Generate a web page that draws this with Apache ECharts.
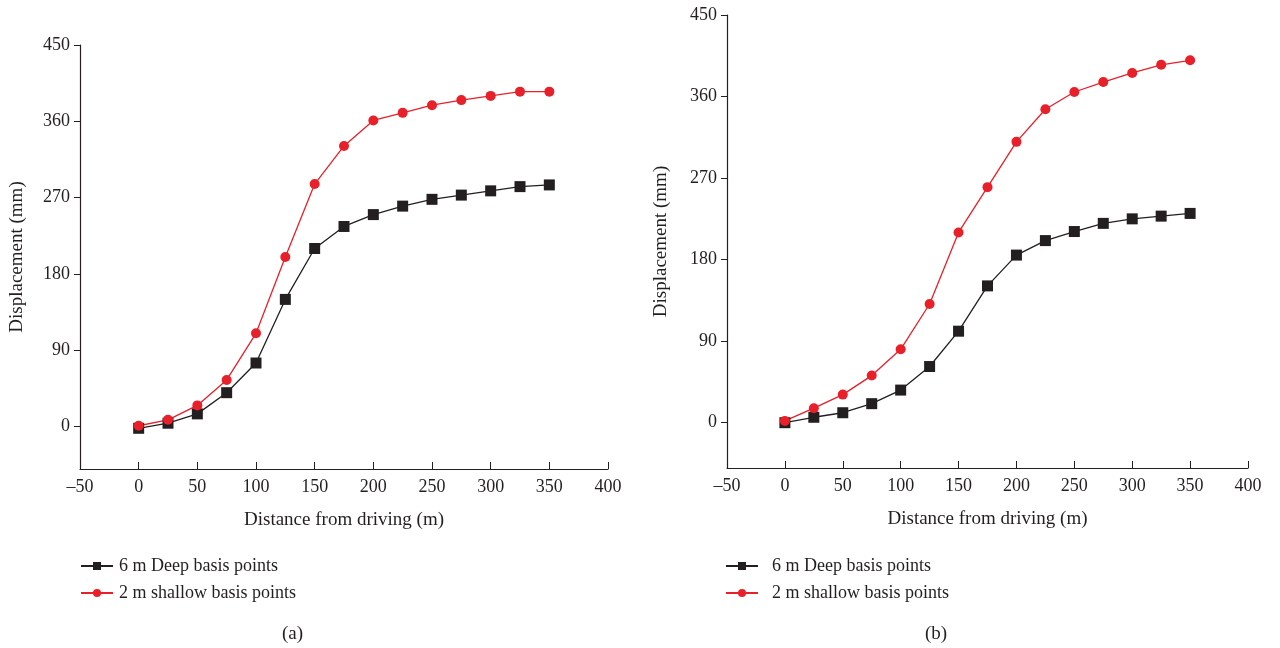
<!DOCTYPE html>
<html>
<head>
<meta charset="utf-8">
<script src="https://cdn.jsdelivr.net/npm/echarts@6/dist/echarts.min.js"></script>
<style>
  html, body { margin: 0; padding: 0; background: #fff; }
  #chart { width: 1280px; height: 648px; }
</style>
</head>
<body>
<div id="chart"></div>
<script>
const distance = [0, 25, 50, 75, 100, 125, 150, 175, 200, 225, 250, 275, 300, 325, 350]
const deepA = [-2, 4, 15, 40, 75, 150, 210, 236, 250, 260, 268, 273, 278, 283, 285]
const shallowA = [1, 8, 25, 55, 110, 200, 286, 331, 361, 370, 379, 385, 390, 395, 395]
const deepB = [0, 6, 11, 21, 36, 62, 101, 151, 185, 201, 211, 220, 225, 228, 231]
const shallowB = [2, 16, 31, 52, 81, 131, 210, 260, 310, 346, 365, 376, 386, 395, 400]
const yTicks = [0, 90, 180, 270, 360, 450]
const names = ['6 m Deep basis points', '2 m shallow basis points']

const font = '"Liberation Serif", "DejaVu Serif", serif'
const ink = '#231f20'

const pairs = (ys) => distance.map((x, i) => [x, ys[i]])

const xAxisOf = (gridIndex) => ({
  type: 'value',
  gridIndex,
  min: -50,
  max: 400,
  interval: 50,
  name: 'Distance from driving (m)',
  nameLocation: 'middle',
  nameGap: 42,
  nameTextStyle: { color: ink, fontFamily: font, fontSize: 19 },
  axisLine: { onZero: false, lineStyle: { color: ink, width: 1.2 } },
  axisTick: { inside: true, length: 7, lineStyle: { color: ink } },
  axisLabel: {
    color: ink, fontFamily: font, fontSize: 18, margin: 9,
    formatter: (v) => String(v).replace('-', '\u2013'),
  },
  splitLine: { show: false },
})

const yAxisOf = (gridIndex, gap) => ({
  type: 'value',
  gridIndex,
  min: -50,
  max: 450,
  name: 'Displacement (mm)',
  nameLocation: 'middle',
  nameGap: gap,
  nameTextStyle: { color: ink, fontFamily: font, fontSize: 19 },
  axisLine: { show: true, onZero: false, lineStyle: { color: ink, width: 1.2 } },
  axisTick: { show: true, length: 6, customValues: yTicks, lineStyle: { color: ink } },
  axisLabel: { color: ink, fontFamily: font, fontSize: 18, margin: 10, customValues: yTicks },
  splitLine: { show: false },
})

const deepStyle = {
  type: 'line',
  symbol: 'rect',
  symbolSize: 11,
  lineStyle: { color: ink, width: 1.3 },
  itemStyle: { color: ink },
}
const shallowStyle = {
  type: 'line',
  symbol: 'circle',
  symbolSize: 10,
  lineStyle: { color: '#e8202a', width: 1.3 },
  itemStyle: { color: '#e8202a' },
}

const legendOf = (left, textGap) => ({
  left,
  top: 557,
  padding: 0,
  orient: 'vertical',
  itemWidth: 32,
  itemHeight: 10,
  itemGap: 9,
  data: names,
  textStyle: { color: ink, fontFamily: font, fontSize: 18, padding: [0, 0, 0, textGap] },
})

const chart = echarts.init(document.getElementById('chart'))
chart.setOption({
  backgroundColor: '#fff',
  animation: false,
  title: [
    { text: '(a)', left: 277, top: 620, textStyle: { color: ink, fontFamily: font, fontSize: 19, fontWeight: 'normal' } },
    { text: '(b)', left: 920, top: 620, textStyle: { color: ink, fontFamily: font, fontSize: 19, fontWeight: 'normal' } },
  ],
  legend: [legendOf(80, 1), legendOf(725, 9)],
  grid: [
    { left: 80, top: 45, width: 528, height: 424 },
    { left: 727, top: 15, width: 521, height: 453 },
  ],
  xAxis: [xAxisOf(0), xAxisOf(1)],
  yAxis: [yAxisOf(0, 53), yAxisOf(1, 56)],
  series: [
    { ...deepStyle, name: names[0], xAxisIndex: 0, yAxisIndex: 0, data: pairs(deepA) },
    { ...shallowStyle, name: names[1], xAxisIndex: 0, yAxisIndex: 0, data: pairs(shallowA) },
    { ...deepStyle, name: names[0], xAxisIndex: 1, yAxisIndex: 1, data: pairs(deepB) },
    { ...shallowStyle, name: names[1], xAxisIndex: 1, yAxisIndex: 1, data: pairs(shallowB) },
  ],
})
</script>
</body>
</html>
